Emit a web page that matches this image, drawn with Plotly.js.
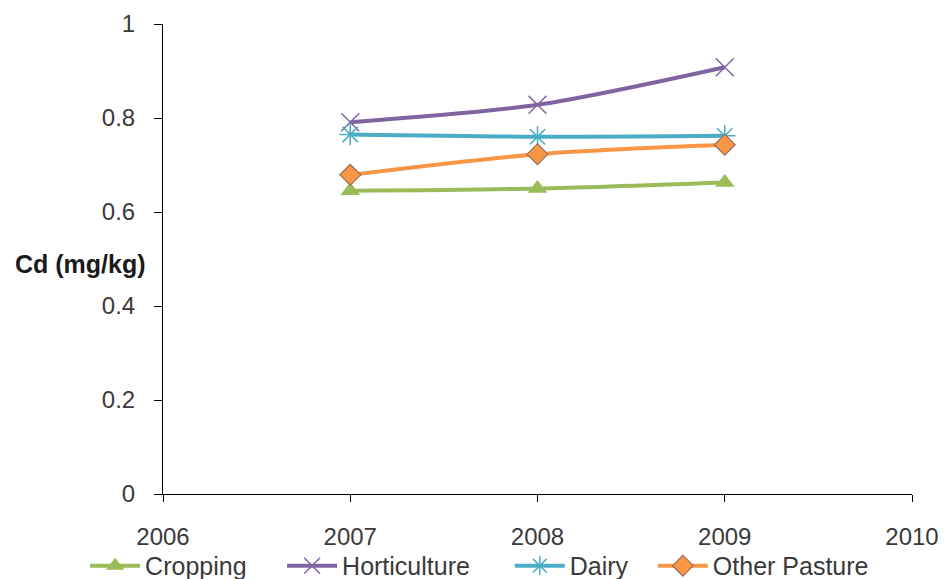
<!DOCTYPE html>
<html>
<head>
<meta charset="utf-8">
<script src="https://cdn.plot.ly/plotly-3.0.1.min.js"></script>
<style>
  html, body { margin: 0; padding: 0; background: #fff; }
  #chart { width: 944px; height: 579px; }
</style>
</head>
<body>
<div id="chart"></div>
<script>
// Sampling years
const years = [2007, 2008, 2009];

// Mean soil cadmium (mg/kg) by land use
const cropping     = [0.645, 0.650, 0.663];
const horticulture = [0.791, 0.828, 0.908];
const dairy        = [0.765, 0.760, 0.762];
const otherPasture = [0.679, 0.723, 0.743];

// Axis ticks
const xTicks = [2006, 2007, 2008, 2009, 2010];
const yTicks = [0, 0.2, 0.4, 0.6, 0.8, 1];
const yTickText = ['0', '0.2', '0.4', '0.6', '0.8', '1'];

const FONT = 'Liberation Sans, Arial, sans-serif';
const TEXT_COLOR = '#3a3a3a';

function series(name, y, color, symbol, legendId, markerStyle) {
  return {
    type: 'scatter',
    mode: 'lines+markers',
    name: name,
    legend: legendId,
    x: years,
    y: y,
    line: { color: color, width: 4, shape: 'spline', smoothing: 0.8 },
    marker: Object.assign({ symbol: symbol, color: color, size: 16 }, markerStyle || {})
  };
}

const traces = [
  series('Cropping', cropping, '#9BBB59', 'triangle-up', 'legend', { size: 17, line: { width: 0 } }),
  series('Horticulture', horticulture, '#8064A2', 'x-thin-open', 'legend2', { size: 18, line: { width: 1.5, color: '#8064A2' } }),
  series('Dairy', dairy, '#4BACC6', 'asterisk-open', 'legend3', { size: 18, line: { width: 1.5, color: '#4BACC6' } }),
  series('Other Pasture', otherPasture, '#F79646', 'diamond', 'legend4', { size: 16, line: { width: 1.2, color: '#9A6E55' } })
];

// One legend box per series so each entry sits on its own spot along the bottom row
function legendAt(x) {
  return {
    orientation: 'h',
    x: x, xanchor: 'left',
    y: -0.153, yanchor: 'middle',
    font: { family: FONT, size: 25, color: TEXT_COLOR },
    bgcolor: 'rgba(0,0,0,0)',
    itemwidth: 50
  };
}

const layout = {
  width: 944,
  height: 579,
  margin: { l: 163, r: 32, t: 24, b: 85, autoexpand: false },
  paper_bgcolor: '#ffffff',
  plot_bgcolor: '#ffffff',
  font: { family: FONT, size: 24, color: TEXT_COLOR },
  showlegend: true,
  legend: legendAt(-0.104),
  legend2: legendAt(0.159),
  legend3: legendAt(0.463),
  legend4: legendAt(0.654),
  xaxis: {
    range: [2006, 2010],
    tickmode: 'array',
    tickvals: xTicks,
    ticktext: xTicks.map(String),
    ticks: 'outside',
    ticklen: 7,
    tickcolor: '#000',
    tickwidth: 1,
    showline: true,
    linecolor: '#000',
    linewidth: 1,
    showgrid: false,
    zeroline: false,
    ticklabelstandoff: 14,
    tickfont: { family: FONT, size: 24, color: TEXT_COLOR }
  },
  yaxis: {
    range: [0, 1],
    tickmode: 'array',
    tickvals: yTicks,
    ticktext: yTickText,
    ticks: 'outside',
    ticklen: 8,
    tickcolor: '#000',
    tickwidth: 1,
    showline: true,
    linecolor: '#000',
    linewidth: 1,
    showgrid: false,
    zeroline: false,
    ticklabelstandoff: 14,
    tickfont: { family: FONT, size: 24, color: TEXT_COLOR }
  },
  annotations: [{
    text: '<b>Cd (mg/kg)</b>',
    xref: 'paper', yref: 'paper',
    x: -0.2, xanchor: 'left',
    y: 0.49, yanchor: 'middle',
    showarrow: false,
    font: { family: FONT, size: 25, color: '#1a1a1a' }
  }]
};

Plotly.newPlot('chart', traces, layout, { displayModeBar: false, staticPlot: true });
</script>
</body>
</html>
